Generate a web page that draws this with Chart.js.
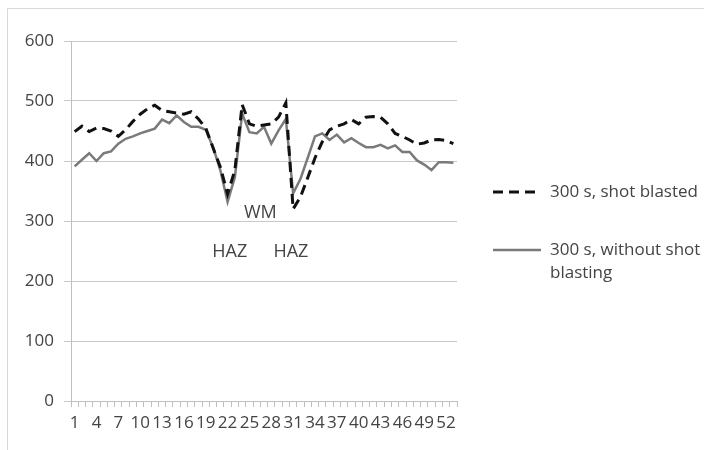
<!DOCTYPE html>
<html>
<head>
<meta charset="utf-8">
<script src="https://cdn.jsdelivr.net/npm/chart.js@4"></script>
<style>
  body { margin: 0; background: #fff; }
  canvas { display: block; }
</style>
</head>
<body>
<canvas id="hardnessChart" width="704" height="450"></canvas>
<script>
// measurement positions along the traverse
const positions = Array.from({ length: 53 }, (_, i) => String(i + 1));

const shotBlasted = [
  449, 458, 449, 455, 454, 450, 441, 452, 466, 478,
  487, 493, 484, 482, 480, 478, 482, 470, 455, 422,
  390, 345, 385, 494, 462, 458, 460, 462, 473, 497,
  320, 340, 372, 405, 432, 452, 458, 462, 469, 462,
  473, 474, 473, 462, 446, 441, 435, 428, 430, 435,
  436, 434, 429
];

const withoutShotBlasting = [
  391, 402, 413, 400, 413, 416, 429, 437, 441, 446,
  450, 454, 469, 463, 476, 465, 457, 457, 452, 423,
  385, 332, 373, 479, 448, 446, 457, 429, 451, 470,
  346, 370, 405, 441, 446, 435, 444, 431, 438, 430,
  423, 423, 427, 421, 426, 415, 415, 401, 394, 385,
  398, 398, 397
];

const seriesNames = ["300 s, shot blasted", "300 s, without shot blasting"];

// zone labels: [text, position index, value]
const zoneLabels = [
  ["WM", 25.5, 313],
  ["HAZ", 21.3, 248],
  ["HAZ", 29.7, 248]
];

const textColor = "#444";
const fontFamily = "'Open Sans', sans-serif";

const extras = {
  id: "extras",
  afterDraw(chart) {
    const ctx = chart.ctx;
    const x = chart.scales.x;
    const y = chart.scales.y;
    ctx.save();

    // outer frame
    ctx.strokeStyle = "#d9d9d9";
    ctx.lineWidth = 1;
    ctx.beginPath();
    ctx.moveTo(7.5, 450);
    ctx.lineTo(7.5, 8.5);
    ctx.lineTo(704, 8.5);
    ctx.stroke();

    // zone labels
    ctx.fillStyle = textColor;
    ctx.font = "18px " + fontFamily;
    ctx.textAlign = "center";
    ctx.textBaseline = "middle";
    zoneLabels.forEach(([t, pos, val]) => {
      ctx.fillText(t, x.getPixelForValue(pos), y.getPixelForValue(val));
    });

    // legend
    ctx.font = "17px " + fontFamily;
    ctx.textAlign = "left";
    ctx.lineWidth = 3;
    ctx.strokeStyle = "#111";
    ctx.setLineDash([10, 6]);
    ctx.beginPath();
    ctx.moveTo(493, 192);
    ctx.lineTo(541, 192);
    ctx.stroke();
    ctx.fillText(seriesNames[0], 550, 192);

    ctx.setLineDash([]);
    ctx.lineWidth = 2.5;
    ctx.strokeStyle = "#7a7a7a";
    ctx.beginPath();
    ctx.moveTo(493, 250);
    ctx.lineTo(541, 250);
    ctx.stroke();
    ctx.fillText("300 s, without shot", 550, 250);
    ctx.fillText("blasting", 550, 273);

    ctx.restore();
  }
};

new Chart(document.getElementById("hardnessChart"), {
  type: "line",
  data: {
    labels: positions,
    datasets: [
      {
        label: seriesNames[0],
        data: shotBlasted,
        borderColor: "#111",
        borderWidth: 3,
        borderDash: [10, 6],
        pointRadius: 0,
        tension: 0,
        fill: false
      },
      {
        label: seriesNames[1],
        data: withoutShotBlasting,
        borderColor: "#7a7a7a",
        borderWidth: 2.5,
        pointRadius: 0,
        tension: 0,
        fill: false
      }
    ]
  },
  options: {
    responsive: false,
    animation: false,
    events: [],
    layout: { padding: { left: 0, top: 41, right: 247, bottom: 0 } },
    plugins: {
      legend: { display: false },
      tooltip: { enabled: false }
    },
    scales: {
      x: {
        offset: true,
        afterFit: (s) => { s.height = 49; },
        grid: {
          offset: true,
          drawOnChartArea: false,
          tickLength: 6,
          color: "#bfbfbf"
        },
        border: { color: "#bfbfbf" },
        ticks: {
          autoSkip: false,
          maxRotation: 0,
          padding: 6,
          color: textColor,
          font: { family: fontFamily, size: 17 },
          callback: (v, i) => (i % 3 === 0 ? positions[i] : "")
        }
      },
      y: {
        min: 0,
        max: 600,
        afterFit: (s) => { s.width = 71; },
        grid: { color: "#c8c8c8", tickLength: 7 },
        border: { color: "#bfbfbf" },
        ticks: {
          stepSize: 100,
          padding: 10,
          color: textColor,
          font: { family: fontFamily, size: 17 }
        }
      }
    }
  },
  plugins: [extras]
});
</script>
</body>
</html>
